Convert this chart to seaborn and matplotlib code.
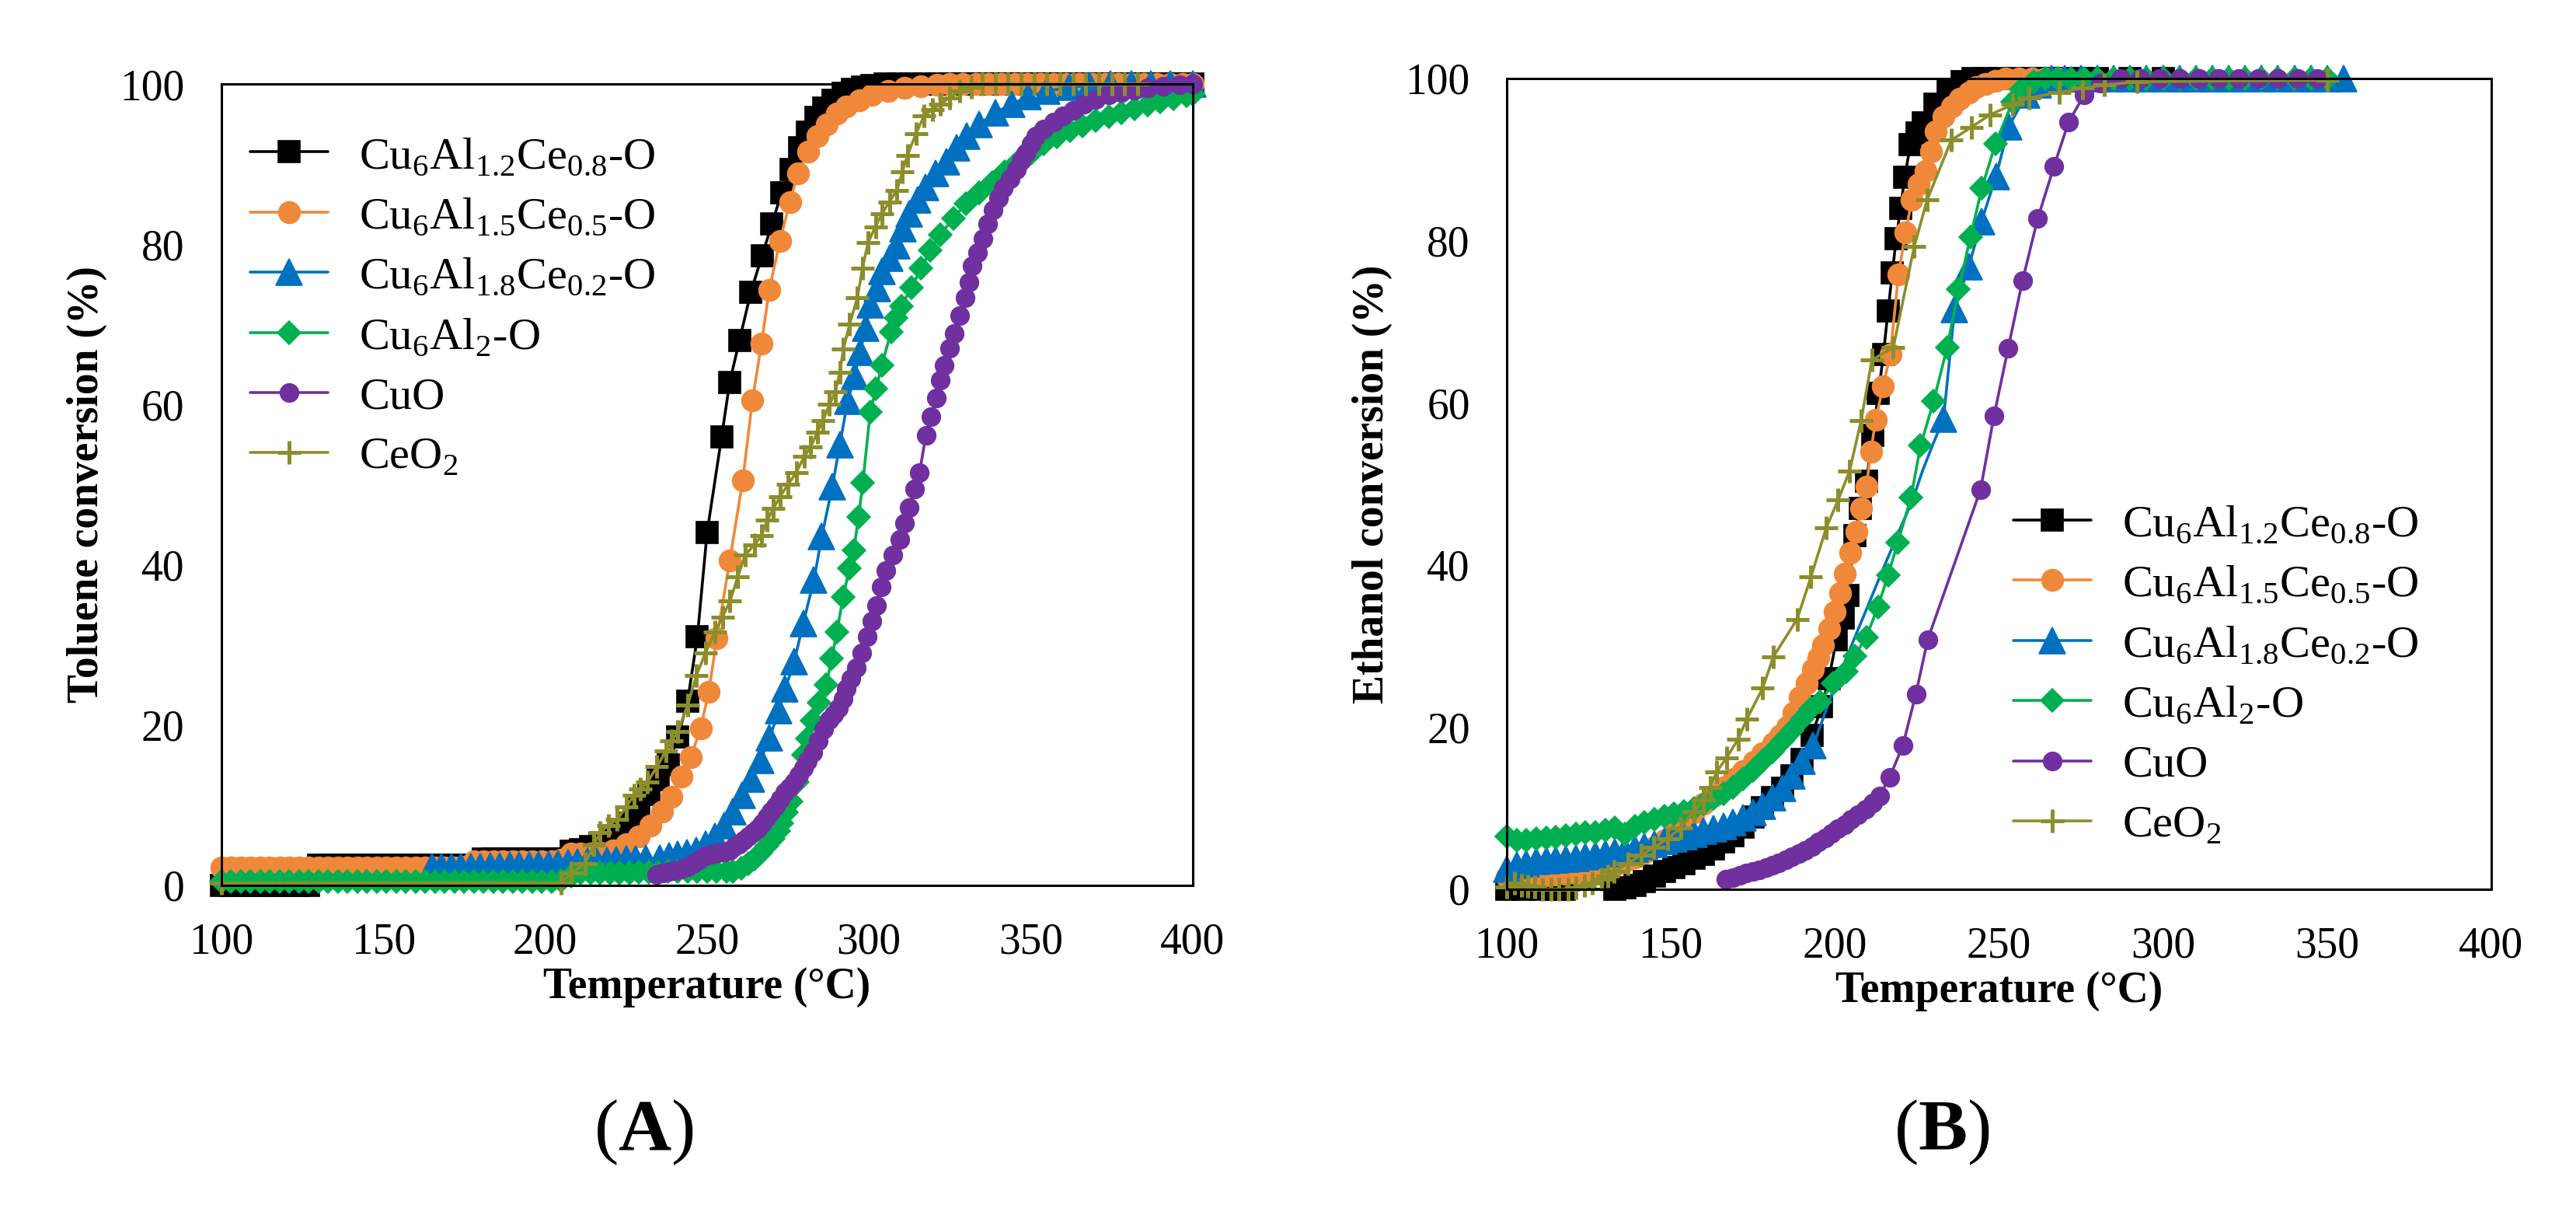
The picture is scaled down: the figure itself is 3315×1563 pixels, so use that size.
import matplotlib
matplotlib.use("Agg")
import matplotlib.pyplot as plt
import seaborn as sns

# ---------------- (A) toluene conversion ----------------
tol_c12_T = [100, 103, 106, 109, 112, 115, 118, 121, 124, 127,
             130, 133, 136, 139, 142, 145, 148, 151, 154, 157,
             160, 163, 166, 169, 172, 175, 178, 181, 184, 187,
             190, 193, 196, 199, 202, 205, 208, 211, 214, 217,
             220, 223, 226, 229, 232, 235, 238, 241, 244, 247,
             250, 254.5, 257, 260, 263.5, 267, 270, 273, 276, 278.5,
             281, 283.5, 286, 289, 292, 295, 298, 301, 305, 309,
             313, 317, 321, 325, 329, 333, 337, 341, 345, 349,
             353, 357, 361, 365, 369, 373, 377, 381, 385, 389,
             393, 397, 400]
tol_c12_X = [0, 0, 0, 0, 0, 0, 0, 0, 0, 0,
             2.5, 2.5, 2.5, 2.5, 2.5, 2.5, 2.5, 2.5, 2.5, 2.5,
             2.5, 2.5, 2.5, 2.5, 2.5, 2.5, 2.5, 3.3, 3.3, 3.3,
             3.3, 3.3, 3.3, 3.3, 3.3, 3.3, 4.3, 4.5, 4.8, 5.2,
             5.8, 6.5, 7.8, 9.5, 11.3, 13.2, 15, 18.5, 23, 31,
             44, 56, 62.8, 68, 74, 78.6, 82.5, 86.4, 89.3, 92,
             94, 95.8, 97, 98, 98.8, 99.3, 99.6, 99.8, 100, 100,
             100, 100, 100, 100, 100, 100, 100, 100, 100, 100,
             100, 100, 100, 100, 100, 100, 100, 100, 100, 100,
             100, 100, 100]

tol_c15_T = [100, 103, 106, 109, 112, 115, 118, 121, 124, 127,
             130, 133, 136, 139, 142, 145, 148, 151, 154, 157,
             160, 163, 166, 169, 172, 175, 178, 181, 184, 187,
             190, 193, 196, 199, 202, 205, 208, 211, 214, 217,
             221, 225, 229, 232.5, 236, 239, 242, 245, 248, 250.5,
             253, 257, 261, 264, 266.8, 269.2, 272.5, 275.6, 278, 281.3,
             284, 287, 290, 293, 297, 301, 306, 311, 316, 321,
             325, 329, 333, 337, 341, 345, 349, 353, 357, 361,
             365, 369, 373, 377, 381, 385, 389, 393, 397, 400]
tol_c15_X = [2.2, 2.2, 2.2, 2.2, 2.2, 2.2, 2.2, 2.2, 2.2, 2.2,
             2.2, 2.2, 2.2, 2.2, 2.2, 2.2, 2.2, 2.2, 2.2, 2.2,
             2.2, 2.2, 2.2, 2.2, 2.2, 2.3, 3.0, 3.0, 3.0, 3.0,
             3.0, 3.0, 3.0, 3.0, 3.0, 3.2, 4.0, 4.0, 4.0, 4.1,
             4.4, 5.1, 6.1, 7.5, 9.2, 11.1, 13.6, 16, 19.6, 24.1,
             30.8, 40.5, 50.5, 60.5, 67.6, 74.3, 80.4, 85.3, 88.8, 91.6,
             93.5, 95, 96.3, 97.2, 98, 98.6, 99.1, 99.5, 99.7, 99.9,
             100, 100, 100, 100, 100, 100, 100, 100, 100, 100,
             100, 100, 100, 100, 100, 100, 100, 100, 100, 100]

tol_c18_T = [165, 168, 171, 174, 177, 180, 183, 186, 189, 192,
             195, 198, 201, 204, 207, 210, 213, 216, 219, 222,
             225, 228, 231, 235.4, 238.2, 241, 243.9, 246.7, 249.5, 252.4,
             255.2, 258, 260.8, 263.7, 266.5, 269.3, 272.2, 274.1, 276.9, 279.7,
             283, 285.4, 288.7, 291, 293.4, 295.5, 297.2, 299, 300.5, 302.5,
             304, 306.5, 308.6, 310.5, 312.4, 315, 317.5, 320.5, 323.9, 327,
             330.2, 334, 339.1, 344, 349.2, 355, 361.9, 368, 374.6, 381,
             387, 393, 400]
tol_c18_X = [2.3, 2.3, 2.3, 2.3, 2.3, 2.3, 2.4, 2.4, 2.5, 2.5,
             2.5, 2.6, 2.6, 2.7, 2.8, 2.9, 3.0, 3.0, 3.1, 3.2,
             3.3, 3.3, 3.4, 3.4, 3.7, 3.9, 4.1, 4.4, 5.1, 6.1,
             7.5, 9.2, 11.2, 13.3, 15.6, 18.4, 21.8, 24.5, 27.9, 32.7,
             38.1, 43.5, 49.8, 55, 60.4, 63.5, 66.5, 69.5, 72.5, 74.5,
             76.6, 78.3, 79.8, 82, 83.8, 85.5, 87.1, 88.8, 90.3, 92,
             93.5, 95, 96.4, 97.5, 98.4, 99.1, 99.6, 99.8, 100, 100,
             100, 100, 100]

tol_al2_T = [100, 103, 106, 109, 112, 115, 118, 121, 124, 127,
             130, 133, 136, 139, 142, 145, 148, 151, 154, 157,
             160, 163, 166, 169, 172, 175, 178, 181, 184, 187,
             190, 193, 196, 199, 202, 205, 208, 211, 214, 217,
             220, 223, 226, 229, 232, 235, 238, 241, 244, 247,
             250, 253, 256, 258, 260.5, 262.7, 264.6, 266.5, 268.4, 270.3,
             272, 273.1, 274.5, 275.9, 277.8, 279.7, 281, 282.5, 284.5, 286.8,
             288.5, 290.1, 292, 294, 295.3, 296.8, 298.1, 300.4, 302.2, 304,
             306.8, 308.4, 310, 313.2, 316, 319, 322, 326, 330, 334,
             338, 342, 346, 350, 354, 358, 362, 366, 370, 374,
             378, 382, 386, 390, 394, 398, 400]
tol_al2_X = [0.5, 0.5, 0.5, 0.5, 0.5, 0.5, 0.5, 0.5, 0.5, 0.5,
             0.5, 0.5, 0.5, 0.5, 0.5, 0.5, 0.5, 0.5, 0.5, 0.5,
             0.5, 0.5, 0.5, 0.5, 0.5, 0.5, 0.5, 0.5, 0.5, 0.5,
             0.5, 0.5, 0.5, 0.5, 0.5, 0.6, 1.2, 1.5, 1.5, 1.5,
             1.5, 1.5, 1.5, 1.6, 1.6, 1.6, 1.7, 1.7, 1.7, 1.7,
             1.7, 1.7, 1.7, 1.7, 2.1, 2.7, 3.3, 4.1, 4.9, 5.8,
             6.8, 7.8, 9.1, 10.5, 12.9, 16.3, 18.3, 20.6, 22.8, 25,
             28.3, 31.6, 36, 39.6, 41.8, 46, 50.2, 59.1, 62, 64.9,
             69.1, 70.8, 72.3, 74.6, 77, 79.2, 81.2, 83.2, 85.1, 86.4,
             87.7, 89, 90.3, 91.4, 92.5, 93.4, 94.2, 94.8, 95.4, 95.9,
             96.4, 96.9, 97.4, 97.8, 98.2, 98.5, 98.7]

tol_cuo_T = [234.4, 236.3, 238.2, 240, 242, 244, 245.8, 247.6, 249.5, 251.4,
             253.3, 255.2, 257.1, 258.5, 259.9, 261.3, 262.7, 264.2, 265.6, 267,
             268.4, 269.8, 271.2, 272.6, 274.1, 275.5, 276.9, 278.3, 279.7, 281,
             282.6, 284.4, 286, 287.7, 289.2, 290.6, 292, 292.9, 294.5, 296.2,
             297.8, 299.5, 301, 302.4, 303.8, 305.2, 307.3, 309.5, 311, 312.3,
             314, 315.6, 317.6, 319.2, 320.8, 322, 323.2, 324.8, 326.4, 328,
             329.6, 330.8, 331.9, 333.5, 335.1, 336.7, 338.3, 340, 341.5, 343.5,
             345.6, 347, 348.3, 350, 351.5, 354, 357, 360, 363, 366.5,
             370, 374, 378, 382, 386, 391, 396, 400]
tol_cuo_X = [1.4, 1.5, 1.7, 1.8, 2.0, 2.3, 2.7, 3.2, 3.7, 3.9,
             4.1, 4.2, 4.4, 4.8, 5.1, 5.6, 6.1, 6.6, 7.1, 7.8,
             8.5, 9.2, 9.9, 10.8, 11.6, 12.2, 12.9, 13.8, 14.6, 15.5,
             16.6, 18, 19.5, 20.7, 21.3, 22.1, 23.3, 24.5, 25.8, 27.2,
             29, 31, 33, 34.9, 37.2, 39.3, 41.2, 43.2, 45.2, 47.1,
             49.5, 51.5, 56.2, 58.5, 60.8, 63, 64.9, 67, 68.9, 71.1,
             73.3, 75.3, 77.3, 79, 80.7, 82.5, 84.3, 85.7, 87, 88.2,
             89.3, 90.4, 91.4, 92.5, 93.5, 94.4, 95.2, 96, 96.7, 97.5,
             98.1, 98.6, 98.9, 99.2, 99.5, 99.7, 99.9, 100]

tol_ceo_T = [100, 205, 208, 212.3, 215, 217, 219.5, 222.2, 225, 227.4,
             229.5, 231.6, 234.5, 237.3, 239, 241, 244, 246.7, 249.5, 252.4,
             254.8, 257.1, 259.5, 261.7, 264.6, 266.8, 268.6, 270.5, 272.5, 275,
             277.5, 280, 282, 284, 285.8, 287.8, 289.6, 291, 292.1, 294,
             296.4, 298, 299.7, 302, 304, 306.3, 308.6, 310.3, 311.9, 314.5,
             317, 319.5, 322, 325, 328, 331.5, 335, 339, 343, 347,
             351, 355, 359, 363, 367, 371, 375, 379, 383]
tol_ceo_X = [0.3, 0.3, 1.5, 2.7, 5, 6.6, 7.5, 8.2, 9.8, 11.2,
             12, 12.9, 14.8, 16.8, 18, 19.2, 22.5, 26.2, 29, 31.6,
             33.5, 35.5, 38.5, 41.2, 42.5, 43.6, 45.6, 47, 48.5, 50,
             51.5, 53.5, 54.7, 56.5, 58, 60, 61.6, 64, 66.9, 70,
             73.3, 77, 80.2, 82.2, 83.8, 85.3, 86.7, 89, 91.1, 93.8,
             96, 96.8, 97.5, 98.3, 99.1, 99.6, 100, 100, 100, 100,
             100, 100, 100, 100, 100, 100, 100, 100, 100]

# ---------------- (B) ethanol conversion ----------------
eth_c12_T = [100, 102.5, 105, 107.5, 110, 112.5, 115, 117.5, 133, 136,
             139, 142, 145, 148, 151, 154, 157, 160, 163, 166,
             169, 172, 175, 178, 181, 184, 187, 190, 193, 196,
             198.2, 200.5, 202.5, 204, 206, 207.8, 209.6, 211.5, 213.3, 214.8,
             216.2, 217.5, 218.7, 220, 221.3, 223, 225, 227, 230.6, 234.6,
             238.7, 242, 246, 250, 255, 260, 265, 270, 275, 280,
             290, 300]
eth_c12_X = [0, 0.3, 0, 0.3, 0, 0.3, 0, 0, 0, 0.2,
             0.5, 1, 1.6, 2.2, 2.7, 3.2, 3.8, 4.3, 5, 5.8,
             6.6, 7.7, 8.9, 10.1, 11.3, 12.5, 14, 16, 19, 22.5,
             26, 30.8, 33.5, 36.2, 43.6, 47, 50.3, 56, 61.2, 66,
             71.3, 76, 80.2, 84, 87.8, 91.8, 93.3, 94.5, 96.8, 98.7,
             99.6, 100, 100, 100, 100, 100, 100, 100, 100, 100,
             100, 100]

eth_c15_T = [100, 103, 106, 109, 112, 115, 118, 121, 124, 127,
             130, 133, 136, 139, 142, 145, 148, 151, 154, 157,
             160, 163, 166, 169.2, 172, 175.3, 178, 181.3, 183.3, 185.4,
             187.5, 189.4, 191.5, 193.4, 195, 196.5, 198.3, 200, 201.5, 203,
             204.8, 206.6, 208, 209.6, 211, 212.4, 214.7, 216.9, 219.4, 221.5,
             223.5, 225.5, 227.6, 229.2, 230.8, 233, 235.7, 238, 240.8, 243,
             246, 249, 252, 256, 260, 264, 268]
eth_c15_X = [1.5, 1.5, 1.6, 1.6, 1.7, 1.8, 1.9, 2.0, 2.1, 2.3,
             2.6, 3.0, 3.4, 3.9, 4.5, 5.2, 6.0, 7.0, 8.2, 9.5,
             10.5, 11.5, 12.6, 13.6, 14.6, 15.7, 16.8, 18, 19, 20,
             21.8, 23.7, 25.4, 27.1, 28.6, 30.1, 32.1, 34.2, 36.5, 38.9,
             41.5, 44.1, 47, 49.7, 54, 57.9, 62, 66, 75.8, 81,
             85, 87, 88.6, 91, 93.5, 95.3, 96.5, 97.5, 98.3, 98.9,
             99.3, 99.7, 100, 100, 100, 100, 100]

eth_c18_T = [100, 103, 106, 109, 112, 115, 118, 121, 124, 127,
             130, 133, 136, 139, 142, 145, 148, 151, 154, 157,
             160, 163, 166, 169, 172, 175, 178, 181, 184, 187,
             190, 193.4, 199.5, 204.5, 209.6, 214.6, 219.7, 223.7, 226.8, 230,
             233.1, 236.5, 240.8, 244.7, 249.1, 253, 258.4, 262, 266, 270,
             275, 280, 285, 290, 295, 300, 305, 310, 315, 320,
             325, 330, 335, 340, 345, 350, 355]
eth_c18_X = [2.5, 3.0, 3.2, 3.4, 3.5, 3.6, 3.7, 3.8, 4.0, 4.2,
             4.4, 4.6, 4.8, 5.0, 5.3, 5.6, 5.9, 6.2, 6.5, 6.8,
             7.2, 7.5, 7.8, 8.2, 8.8, 9.5, 10.3, 11.3, 12.5, 14,
             15.8, 17.7, 24.5, 29.5, 34.5, 39.4, 44.3, 48, 51.7, 55,
             58, 71.5, 76.8, 82.4, 87.9, 94.1, 98, 99.2, 100, 100,
             100, 100, 100, 100, 100, 100, 100, 100, 100, 100,
             100, 100, 100, 100, 100, 100, 100]

eth_al2_T = [100, 103, 106, 109, 112, 115, 118, 121, 124, 127,
             130, 133, 136, 139, 142, 145, 148, 151, 154, 157,
             160, 163, 166, 169, 172, 175, 178, 181, 184, 187,
             190, 192.5, 195.5, 199.5, 203.5, 206, 209.6, 213.1, 216.2, 219.2,
             223.2, 226.1, 230.1, 234.2, 237.7, 241.3, 244.8, 248.9, 254.1, 256.8,
             260.6, 264, 268, 272, 276, 280, 285, 290, 295, 300,
             305, 310, 315, 320, 325, 330, 335, 340, 345, 350]
eth_al2_X = [6.5, 6.0, 6.0, 6.2, 6.3, 6.4, 6.6, 6.8, 7.0, 7.0,
             7.3, 7.6, 6.8, 7.8, 8.2, 8.6, 9.0, 9.3, 9.6, 10.0,
             10.5, 11.2, 11.8, 12.6, 13.6, 14.7, 15.8, 17.0, 18.3, 19.6,
             21, 22.2, 23.1, 25.4, 26.8, 28.8, 31.1, 34.8, 38.7, 42.8,
             48.3, 54.7, 60.2, 66.8, 74, 80.4, 86.5, 91.9, 97.1, 98.7,
             99.6, 100, 100, 100, 100, 100, 100, 100, 100, 100,
             100, 100, 100, 100, 100, 100, 100, 100, 100, 100]

eth_cuo_T = [166.8, 169, 171, 173, 175, 177, 179, 181, 183, 185,
             187, 189, 191, 193, 195, 197, 199, 201, 203, 205,
             207, 209.5, 211.5, 213.6, 216.7, 220.7, 224.7, 228.3, 244.4, 248.5,
             252.8, 257.2, 261.8, 266.8, 271.2, 276, 281, 287, 293, 299,
             305, 311, 317, 323, 329, 335, 341, 347]
eth_cuo_X = [1.2, 1.4, 1.7, 2.0, 2.2, 2.4, 2.7, 3.0, 3.3, 3.6,
             4.0, 4.4, 4.8, 5.3, 5.8, 6.3, 6.9, 7.5, 8.0, 8.6,
             9.2, 9.9, 10.6, 11.5, 13.8, 17.7, 24.1, 30.8, 49.3, 58.4,
             66.7, 75.1, 82.7, 89.2, 94.6, 98, 99.4, 100, 100, 100,
             100, 100, 100, 100, 100, 100, 100, 100]

eth_ceo_T = [100, 102.5, 104.5, 106.5, 108.6, 111, 113.6, 116, 118.7, 121,
             123.7, 126, 128.8, 130.8, 132.8, 136.9, 140.9, 144.9, 149, 153,
             157.1, 160, 162, 164, 167, 170.5, 173.2, 178, 181.3, 188.5,
             192.7, 197.4, 201, 204.5, 208, 211.3, 217.8, 224.2, 228.1, 235.5,
             241.6, 247.2, 254.2, 259.2, 268.4, 275.5, 282.2, 292.1, 350]
eth_ceo_X = [0.3, 0.8, 0.5, 0.4, 0.3, 0, 0, 0, 0, 0.2,
             0.5, 0.8, 1.2, 1.6, 2.2, 3.2, 4.2, 5.2, 6.2, 7.6,
             9.6, 11, 12.6, 14.5, 16.2, 18.5, 21, 24.8, 28.7, 33.3,
             38.5, 44.6, 48, 51.6, 57.8, 65.3, 66.8, 79.3, 85, 92.4,
             94, 95.5, 96.8, 97.6, 98.3, 98.8, 99.2, 99.6, 99.8]

labels = [r'Cu$_\mathregular{6}$Al$_\mathregular{1.2}$Ce$_\mathregular{0.8}$-O',
          r'Cu$_\mathregular{6}$Al$_\mathregular{1.5}$Ce$_\mathregular{0.5}$-O',
          r'Cu$_\mathregular{6}$Al$_\mathregular{1.8}$Ce$_\mathregular{0.2}$-O',
          r'Cu$_\mathregular{6}$Al$_\mathregular{2}$-O',
          'CuO',
          r'CeO$_\mathregular{2}$']
colors = ['#000000', '#F0883A', '#0070C0', '#00B050', '#7030A0', '#8C8E2C']
markers = ['s', 'o', '^', 'D', 'o', '+']
msizes = [10, 10, 12, 7.5, 8.5, 11]

sns.set_style("white")
plt.rcParams['font.family'] = ['Liberation Serif', 'DejaVu Serif']
plt.rcParams['mathtext.fontset'] = 'custom'
plt.rcParams['mathtext.rm'] = 'Liberation Serif'
plt.rcParams['mathtext.bf'] = 'Liberation Serif:bold'
plt.rcParams['text.color'] = 'black'
plt.rcParams['axes.labelcolor'] = 'black'
plt.rcParams['xtick.color'] = 'black'
plt.rcParams['ytick.color'] = 'black'

fig = plt.figure(figsize=(16.58, 7.815), dpi=200)
ax_a = fig.add_axes([0.0859, 0.2713, 0.3770, 0.6596])
ax_b = fig.add_axes([0.5847, 0.2681, 0.3821, 0.6673])


def draw(ax, T, X, i, markevery=None):
    mew = 1.8 if markers[i] == '+' else 0.6
    sns.lineplot(x=T, y=X, ax=ax, color=colors[i], marker=markers[i],
                 markersize=msizes[i], markeredgecolor=colors[i],
                 markeredgewidth=mew, linewidth=1.3, estimator=None,
                 sort=False, clip_on=False, markevery=markevery)
    return ax.get_lines()[-1]


tol_series = [(tol_c12_T, tol_c12_X), (tol_c15_T, tol_c15_X), (tol_c18_T, tol_c18_X),
              (tol_al2_T, tol_al2_X), (tol_cuo_T, tol_cuo_X), (tol_ceo_T, tol_ceo_X)]
eth_series = [(eth_c12_T, eth_c12_X), (eth_c15_T, eth_c15_X), (eth_c18_T, eth_c18_X),
              (eth_al2_T, eth_al2_X), (eth_cuo_T, eth_cuo_X), (eth_ceo_T, eth_ceo_X)]

handles = []
for i, (T, X) in enumerate(tol_series):
    handles.append(draw(ax_a, T, X, i))

for i, (T, X) in enumerate(eth_series):
    every = None
    if i == 2:
        # markers are absent on the smoothed stretch of this curve
        every = [k for k, t in enumerate(T) if not (195 < t < 232)]
    draw(ax_b, T, X, i, every)

for ax, ylab in [(ax_a, 'Toluene conversion (%)'), (ax_b, 'Ethanol conversion (%)')]:
    ax.set_xlim(100, 400)
    ax.set_ylim(0, 100)
    ax.set_xticks([100, 150, 200, 250, 300, 350, 400])
    ax.set_yticks([0, 20, 40, 60, 80, 100])
    ax.tick_params(direction='in', length=6.5, width=1, pad=17, labelsize=20,
                   colors='black')
    for s in ax.spines.values():
        s.set_visible(True)
        s.set_color('black')
        s.set_linewidth(1.1)
    ax.set_xlabel('Temperature (°C)', fontsize=20, fontweight='bold', labelpad=2)
    ax.set_ylabel(ylab, fontsize=20, fontweight='bold', labelpad=6)
    ax.grid(False)

leg_kw = dict(frameon=False, fontsize=21, handlelength=1.7, handletextpad=0.7,
              labelspacing=0.42, borderaxespad=0, borderpad=0)
ax_a.legend(handles=handles, labels=labels, loc='upper left',
            bbox_to_anchor=(0.03, 0.935), **leg_kw)
ax_b.legend(handles=handles, labels=labels, loc='upper left',
            bbox_to_anchor=(0.515, 0.475), **leg_kw)

fig.text(828 / 3316, 1 - 1457 / 1563, r'($\mathbf{A}$)', ha='center', va='center', fontsize=34)
fig.text(2499 / 3316, 1 - 1457 / 1563, r'($\mathbf{B}$)', ha='center', va='center', fontsize=34)

fig.savefig('out.png', dpi=200, facecolor='white')
